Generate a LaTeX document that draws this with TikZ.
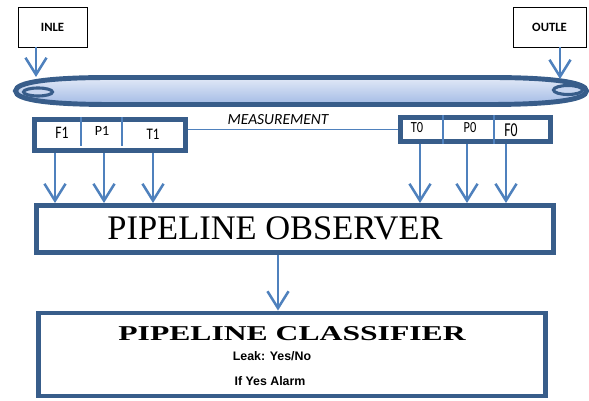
\documentclass[tikz,border=0pt]{standalone}
\usepackage{fontspec}
\usepackage{graphicx}
\setmainfont{Liberation Serif}
\newfontfamily\calfont{Carlito}
\newfontfamily\arialfont{Liberation Sans}
\usepackage{tikz}
\usetikzlibrary{arrows.meta}
\usetikzlibrary{positioning}
\usetikzlibrary{calc}
\definecolor{pipeblue}{RGB}{56,93,138}
\definecolor{arrowblue}{RGB}{79,129,189}
\definecolor{pipetop}{RGB}{226,233,247}
\definecolor{pipebot}{RGB}{163,187,229}
\definecolor{pipeend}{RGB}{200,214,240}
\newcommand{\narrow}[2]{\scalebox{#1}[1]{#2}}

\begin{document}
\begin{tikzpicture}[x=0.025cm, y=0.025cm, >={Straight Barb[length=12pt,width=15pt]},
	flow/.style={->, draw=arrowblue, line width=1.8pt},
	divider/.style={draw=arrowblue, line width=1.3pt},
	thickbox/.style={draw=pipeblue, line width=3.5pt, fill=white, inner sep=0pt},
	portbox/.style={draw=black, line width=0.6pt, minimum height=1cm, inner sep=0pt, font=\calfont\bfseries\fontsize{9}{10}\selectfont},
	tag/.style={inner sep=0pt, font=\calfont}]
			\useasboundingbox (0,0) rectangle (589,400);
			
			%coordinates
			\coordinate (pipeIn)  at (36,323);
			\coordinate (pipeOut) at (560,321);
			
			\coordinate (xFone)  at (55,0);
			\coordinate (xPone)  at (104,0);
			\coordinate (xTone)  at (153,0);
			\coordinate (xTzero) at (420,0);
			\coordinate (xPzero) at (467,0);
			\coordinate (xFzero) at (506,0);
			\coordinate (xOut)   at (278,0);
			
			\coordinate (dA) at (81,0);
			\coordinate (dB) at (122,0);
			\coordinate (dC) at (443,0);
			\coordinate (dD) at (494,0);
			
			%pipe
			\draw[pipeblue, line width=3.5pt, top color=pipetop, bottom color=pipebot]
				(15.5,309) .. controls (15.5,318) and (50,322.5) .. (110,322.5) -- (490,322.5)
				.. controls (550,322.5) and (586.5,318) .. (586.5,309)
				.. controls (586.5,300) and (550,295.5) .. (490,295.5) -- (110,295.5)
				.. controls (50,295.5) and (15.5,300) .. cycle;
			\draw[pipeblue, line width=2.2pt, fill=pipeend] (38,308) ellipse [x radius=14.5, y radius=4];
			\draw[pipeblue, line width=2.2pt, fill=pipeend] (568,310) ellipse [x radius=14.5, y radius=4.5];
			
			%nodes
			\node[portbox, minimum width=1.725cm] (inle) at (52.5,373) {INLE};
			\node[portbox, minimum width=1.825cm] (outle) at (549.5,373) {OUTLE};
			
			\node[thickbox, minimum width=3.775cm, minimum height=0.775cm] (lbox) at (110,265) {};
			\node[thickbox, minimum width=3.75cm, minimum height=0.6cm] (rbox) at (475.5,270.5) {};
			
			\node[tag] (fone)  at (62,267)  {\narrow{0.78}{\fontsize{12.5}{13}\selectfont F1}};
			\node[tag] (pone)  at (102,269) {\fontsize{10}{11}\selectfont P1};
			\node[tag] (tone)  at (153,266) {\narrow{0.8}{\fontsize{11.5}{12}\selectfont T1}};
			\node[tag] (tzero) at (417,272) {\narrow{0.8}{\fontsize{11}{12}\selectfont T0}};
			\node[tag] (pzero) at (470,272) {\narrow{0.8}{\fontsize{11}{12}\selectfont P0}};
			\node[tag] (fzero) at (511,270) {\narrow{0.7}{\fontsize{14}{15}\selectfont F0}};
			
			\node[tag, font=\calfont\itshape\fontsize{11}{12}\selectfont] (meas) at (278,280) {MEASUREMENT};
			
			\node[thickbox, minimum width=12.925cm, minimum height=1.175cm] (obs) at (295,171) {};
			\node[inner sep=0pt, font=\fontsize{24.5}{28}\selectfont] (obstext) at (275,172) {PIPELINE OBSERVER};
			
			\node[thickbox, minimum width=12.675cm, minimum height=2.075cm] (cls) at (292,45.5) {};
			\node[inner sep=0pt] (clstext) at (292,66) {\narrow{1.5}{\bfseries\fontsize{15}{16}\selectfont PIPELINE CLASSIFIER}};
			\node[inner sep=0pt, font=\arialfont\bfseries\fontsize{8.8}{10}\selectfont] (leak) at (272,44) {Leak: Yes/No};
			\node[inner sep=0pt, font=\arialfont\bfseries\fontsize{8.8}{10}\selectfont] (alarm) at (270,19) {If Yes Alarm};
			
			%dividers
			\draw[divider] (dA |- lbox.north) -- ($(dA |- lbox.south) + (0,7)$);
			\draw[divider] (dB |- lbox.north) -- ($(dB |- lbox.south) + (0,7)$);
			\draw[divider] (dC |- rbox.north) -- (dC |- rbox.south);
			\draw[divider] (dD |- rbox.north) -- (dD |- rbox.south);
			\draw[divider] (rbox.west -| lbox.east) -- (rbox.west);
			
			%arrows
			\draw[flow] (inle.south -| pipeIn) -- (pipeIn);
			\draw[flow] (outle.south -| pipeOut) -- (pipeOut);
			
			\draw[flow] (xFone |- lbox.south) -- (xFone |- obs.north);
			\draw[flow] (xPone |- lbox.south) -- (xPone |- obs.north);
			\draw[flow] (xTone |- lbox.south) -- (xTone |- obs.north);
			\draw[flow] (xTzero |- rbox.south) -- (xTzero |- obs.north);
			\draw[flow] (xPzero |- rbox.south) -- (xPzero |- obs.north);
			\draw[flow] (xFzero |- rbox.south) -- (xFzero |- obs.north);
			
			\draw[flow] (xOut |- obs.south) -- (xOut |- cls.north);
\end{tikzpicture}
\end{document}
